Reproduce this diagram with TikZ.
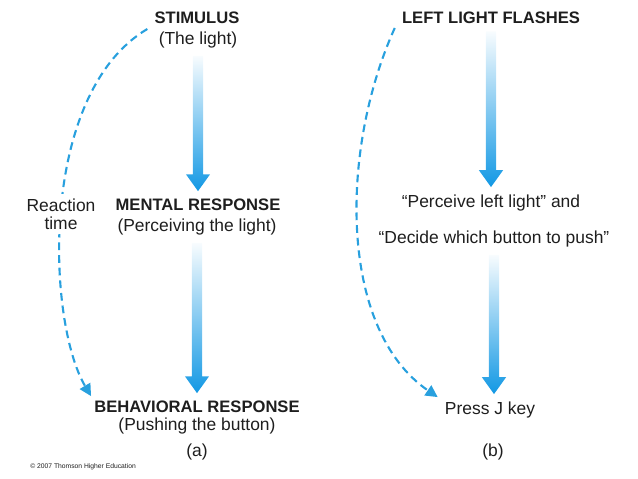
\documentclass[tikz,border=0pt]{standalone}
\usepackage{fontspec}
\setmainfont{Liberation Sans}
\usepackage{tikz}
\usetikzlibrary{arrows.meta, calc}
\definecolor{flowblue}{RGB}{18, 152, 228}
\definecolor{dashblue}{RGB}{40, 160, 222}
\definecolor{inkgray}{RGB}{30, 30, 30}

% gradient arrow between two nodes
\newcommand{\flow}[2]{%
  \shade[flowfill] let \p1=($(#1.south)+(0,-7)$), \p2=($(#2.north)+(0,8)$) in
    (\x1-3.6pt,\y1) -- (\x1+3.6pt,\y1) -- (\x1+3.6pt,\y2+12pt) -- (\x1+8.6pt,\y2+12pt)
    -- (\x1,\y2) -- (\x1-8.6pt,\y2+12pt) -- (\x1-3.6pt,\y2+12pt) -- cycle;}

\begin{document}
\begin{tikzpicture}[x=0.025cm, y=0.025cm,
  head/.style={font=\bfseries\fontsize{11.8}{14}\selectfont, text=inkgray, inner sep=0pt, anchor=base},
  sub/.style={font=\fontsize{12.4}{15}\selectfont, text=inkgray, inner sep=0pt, anchor=base},
  flowfill/.style={top color=flowblue!3, middle color=flowblue!55, bottom color=flowblue},
  rtpath/.style={dashblue, line width=1.5pt, dash pattern=on 5.5pt off 3.5pt, -{Triangle[length=8.5pt, width=8.5pt]}}]
  \useasboundingbox (0,0) rectangle (638,479);

  % (a) stimulus -> mental -> behavioral
  \node[head] (stim) at (197,455) {STIMULUS};
  \node[sub] (stimsub) at (198,434) {(The light)};
  \node[head] (mental) at (198,268) {MENTAL RESPONSE};
  \node[sub] (mentalsub) at (197,247) {(Perceiving the light)};
  \node[head] (behav) at (197,66) {BEHAVIORAL RESPONSE};
  \node[sub] (behavsub) at (197,48) {(Pushing the button)};
  \node[sub] (labela) at (197,22) {(a)};

  \flow{stimsub}{mental}
  \flow{mentalsub}{behav}

  % reaction time curve
  \draw[rtpath] ([shift={(-7,-5)}]stim.base west) .. controls (38,385) and (47,157) .. ([shift={(-3,5)}]behav.north west);
  \node[sub, anchor=center, fill=white, inner sep=3pt, align=center, font=\fontsize{12.4}{13}\selectfont] (react) at (61,265) {Reaction\\time};

  % (b) left light -> perceive/decide -> press
  \node[head] (flash) at (491,455) {LEFT LIGHT FLASHES};
  \node[sub] (perceive) at (491,271) {“Perceive left light” and};
  \node[sub] (decide) at (494,235) {“Decide which button to push”};
  \node[sub] (press) at (490,64) {Press J key};
  \node[sub] (labelb) at (493,22) {(b)};

  \flow{flash}{perceive}
  \flow{decide}{press}

  \draw[rtpath] ([shift={(-7,-4)}]flash.base west) .. controls (340,330) and (338,150) .. ([shift={(-7,5)}]press.north west);

  \node[sub, anchor=base west, font=\fontsize{4.8}{6}\selectfont] (copy) at (30,10) {© 2007 Thomson Higher Education};
\end{tikzpicture}
\end{document}
